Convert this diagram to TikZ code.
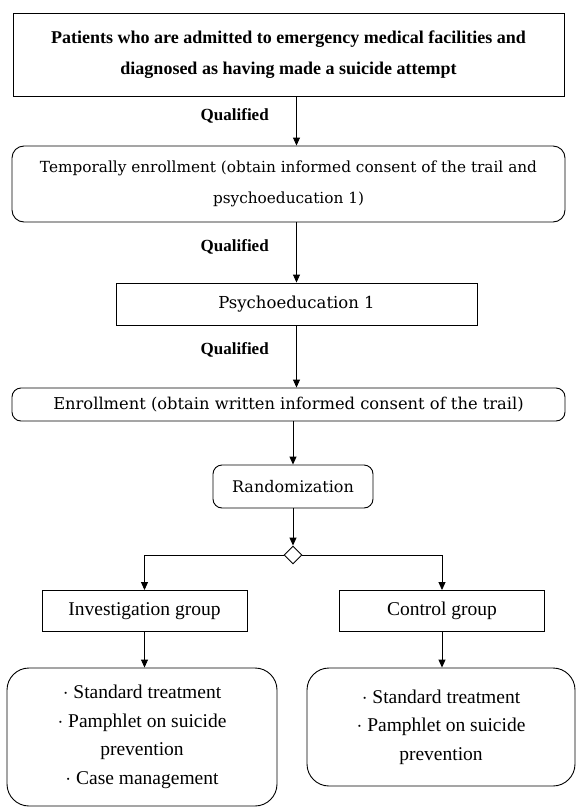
\documentclass[tikz,border=0pt]{standalone}
\usepackage{fontspec}
\setmainfont{Liberation Serif}
\newfontfamily\centuryfont{DejaVu Serif}
\usetikzlibrary{arrows.meta,shapes.geometric}

\tikzset{
  sqbox/.style={draw, line width=0.9pt, align=center, inner sep=0pt},
  rndbox/.style={sqbox, rounded corners=10pt},
  arr/.style={-{Triangle[length=8pt,width=7pt]}, line width=0.9pt},
  qual/.style={font=\fontsize{17}{20}\selectfont\bfseries, left=24pt, pos=0.4},
  cent/.style={font=\fontsize{15.3}{31}\selectfont\centuryfont},
  times/.style={font=\fontsize{19.5}{28.5}\selectfont},
}

\begin{document}
\begin{tikzpicture}[x=1pt,y=-1pt]
  \useasboundingbox (0,0) rectangle (576,811);
  % enrollment steps
  \node[sqbox, minimum width=551pt, minimum height=83pt, font=\fontsize{18}{31}\selectfont\bfseries] (patients) at (288.5,55)
    {Patients who are admitted to emergency medical facilities and\\diagnosed as having made a suicide attempt};
  \node[rndbox, cent, rounded corners=12pt, minimum width=553pt, minimum height=76pt] (temp) at (288.5,184)
    {Temporally enrollment (obtain informed consent of the trail and\\psychoeducation 1)};
  \node[sqbox, cent, font=\fontsize{16.5}{18}\selectfont\centuryfont, minimum width=361pt, minimum height=42pt] (psy) at (296.5,304) {Psychoeducation 1};
  \node[rndbox, cent, font=\fontsize{16.3}{18}\selectfont\centuryfont, rounded corners=9pt, minimum width=553pt, minimum height=33pt] (enroll) at (288.5,404.5)
    {Enrollment (obtain written informed consent of the trail)};
  \node[rndbox, cent, font=\fontsize{16}{18}\selectfont\centuryfont, rounded corners=9pt, minimum width=160pt, minimum height=43pt] (rand) at (293,486.5) {Randomization};
  \node[draw, line width=0.9pt, diamond, inner sep=0pt, minimum width=18pt, minimum height=18pt] (split) at (293,555) {};
  % groups
  \node[sqbox, times, minimum width=205pt, minimum height=41pt] (inv) at (144.5,611) {Investigation group};
  \node[sqbox, times, minimum width=205pt, minimum height=41pt] (ctrl) at (442,611) {Control group};
  \node[rndbox, times, rounded corners=22pt, minimum width=270pt, minimum height=138pt] (invcare) at (142,737)
    {$\cdot$ Standard treatment\\$\cdot$ Pamphlet on suicide\\prevention\\$\cdot$ Case management};
  \node[rndbox, times, rounded corners=22pt, minimum width=268pt, minimum height=118pt] (ctrlcare) at (441,727)
    {$\cdot$ Standard treatment\\$\cdot$ Pamphlet on suicide\\prevention};
  % connectors
  \draw[arr] (patients.south -| psy) -- node[qual] {Qualified} (temp.north -| psy);
  \draw[arr] (temp.south -| psy) -- node[qual] {Qualified} (psy.north);
  \draw[arr] (psy.south) -- node[qual] {Qualified} (enroll.north -| psy);
  \draw[arr] (enroll.south -| rand) -- (rand.north);
  \draw[arr] (rand.south) -- (split.north);
  \draw[arr] (split.west) -| (inv.north);
  \draw[arr] (split.east) -| (ctrl.north);
  \draw[arr] (inv.south) -- (invcare.north -| inv);
  \draw[arr] (ctrl.south) -- (ctrlcare.north -| ctrl);
\end{tikzpicture}
\end{document}
